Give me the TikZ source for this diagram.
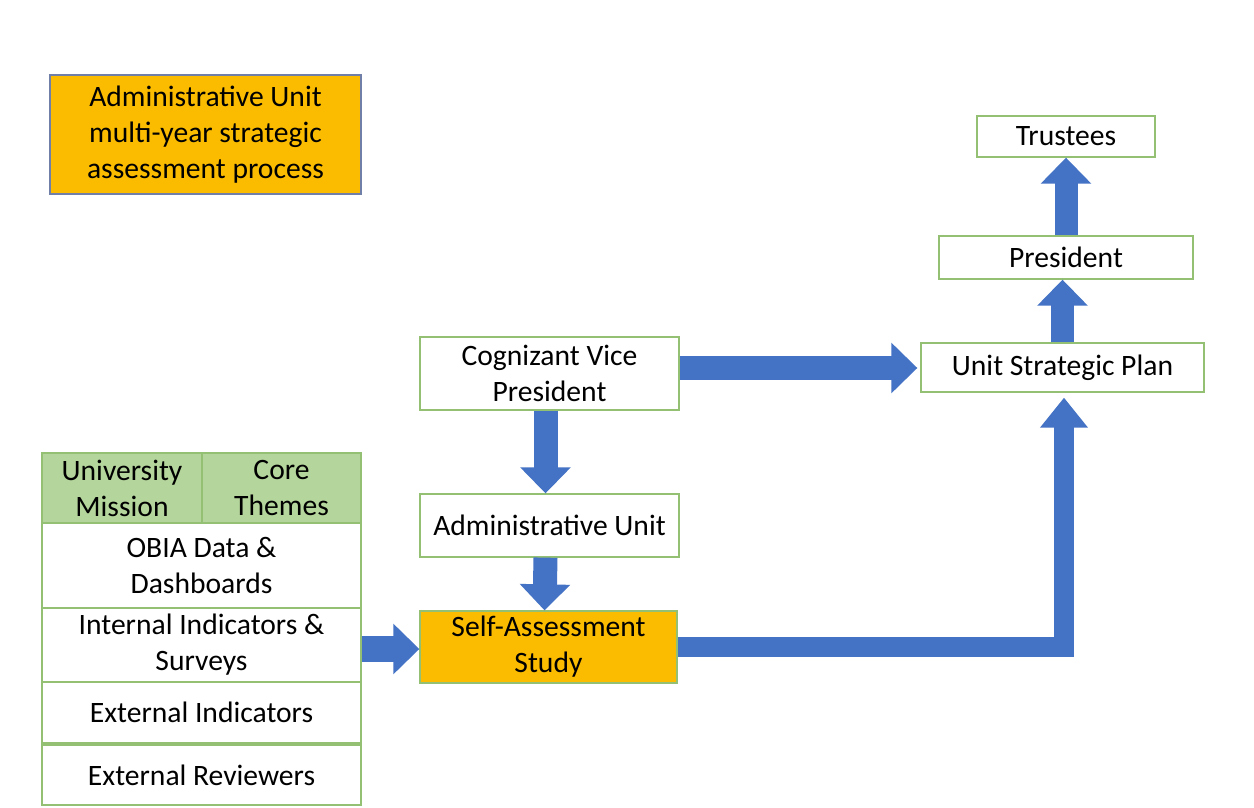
\documentclass[tikz,border=0pt]{standalone}
\usepackage{fontspec}
\setmainfont{Carlito}
\usetikzlibrary{arrows.meta}
\definecolor{orng}{HTML}{FBBC00}
\definecolor{grnfill}{HTML}{B4D59B}
\definecolor{grnline}{HTML}{94C073}
\definecolor{blu}{HTML}{4472C4}
\definecolor{titleline}{HTML}{6F7FA8}
\tikzset{
  box/.style={draw=grnline, line width=1.3pt, fill=white, inner sep=0pt, align=center,
    font=\fontsize{29.6}{36}\selectfont},
  obox/.style={box, fill=orng},
  gbox/.style={box, fill=grnfill},
  flow/.style={draw=blu, line width=24pt, line join=miter,
    -{Triangle[width=49pt,length=26pt]}},
}
\begin{document}
\begin{tikzpicture}[x=1pt,y=-1pt]
\useasboundingbox (0,0) rectangle (1254,808);
\fill[white] (0,0) rectangle (1254,808);
% title
\node[obox, draw=titleline, minimum width=311pt, minimum height=119pt] (title) at (205.5,134.5)
  {Administrative Unit\\multi-year strategic\\assessment process};
% right column
\node[box, minimum width=178pt, minimum height=41pt] (tru) at (1066,136.5) {Trustees};
\node[box, minimum width=254pt, minimum height=43pt] (pres) at (1066,257.5) {President};
\node[box, minimum width=283pt, minimum height=49pt] (usp) at (1062.5,367.5) {Unit Strategic Plan};
% middle column
\node[box, minimum width=259pt, minimum height=73pt] (cvp) at (549.5,373.5) {Cognizant Vice\\President};
\node[box, minimum width=259pt, minimum height=63pt] (au) at (549.5,525.5) {Administrative Unit};
\node[obox, minimum width=257pt, minimum height=72pt] (sas) at (548.5,647) {Self-Assessment\\Study};
% left stack
\node[gbox, minimum width=160pt, minimum height=70pt] (um) at (122,488) {University\\Mission};
\node[gbox, minimum width=159pt, minimum height=70pt] (ct) at (281.5,488) {Core\\Themes};
\node[box, minimum width=319pt, minimum height=85pt] (obia) at (201.5,565.5) {OBIA Data \&\\Dashboards};
\node[box, minimum width=319pt, minimum height=74pt] (ii) at (201.5,645) {Internal Indicators \&\\Surveys};
\node[box, minimum width=319pt, minimum height=61pt] (ei) at (201.5,712.5) {External Indicators};
\node[box, minimum width=319pt, minimum height=60pt] (er) at (201.5,775) {External Reviewers};
% arrows
\draw[flow] ([yshift=-0.5pt]cvp.east |- usp.west) -- ([yshift=-0.5pt,xshift=-3pt]usp.west);
\draw[flow] ([xshift=-4pt]cvp.south) -- ([xshift=-4pt]au.north);
\draw[flow] ([xshift=-4pt]au.south) -- ([xshift=-4pt]sas.north);
\draw[flow, line width=26pt] ([yshift=-4pt]ii.east) -- ([yshift=-4pt]ii.east -| sas.west);
\draw[flow, line width=20pt, -{Triangle[width=46pt,length=30pt]}, shorten >=5pt]
  (sas.east) -| ([xshift=1.5pt]usp.south);
\draw[flow, line width=23pt] (usp.north) -- (usp.north |- pres.south);
\draw[flow, line width=23pt] (pres.north) -- (pres.north |- tru.south);
\end{tikzpicture}
\end{document}
